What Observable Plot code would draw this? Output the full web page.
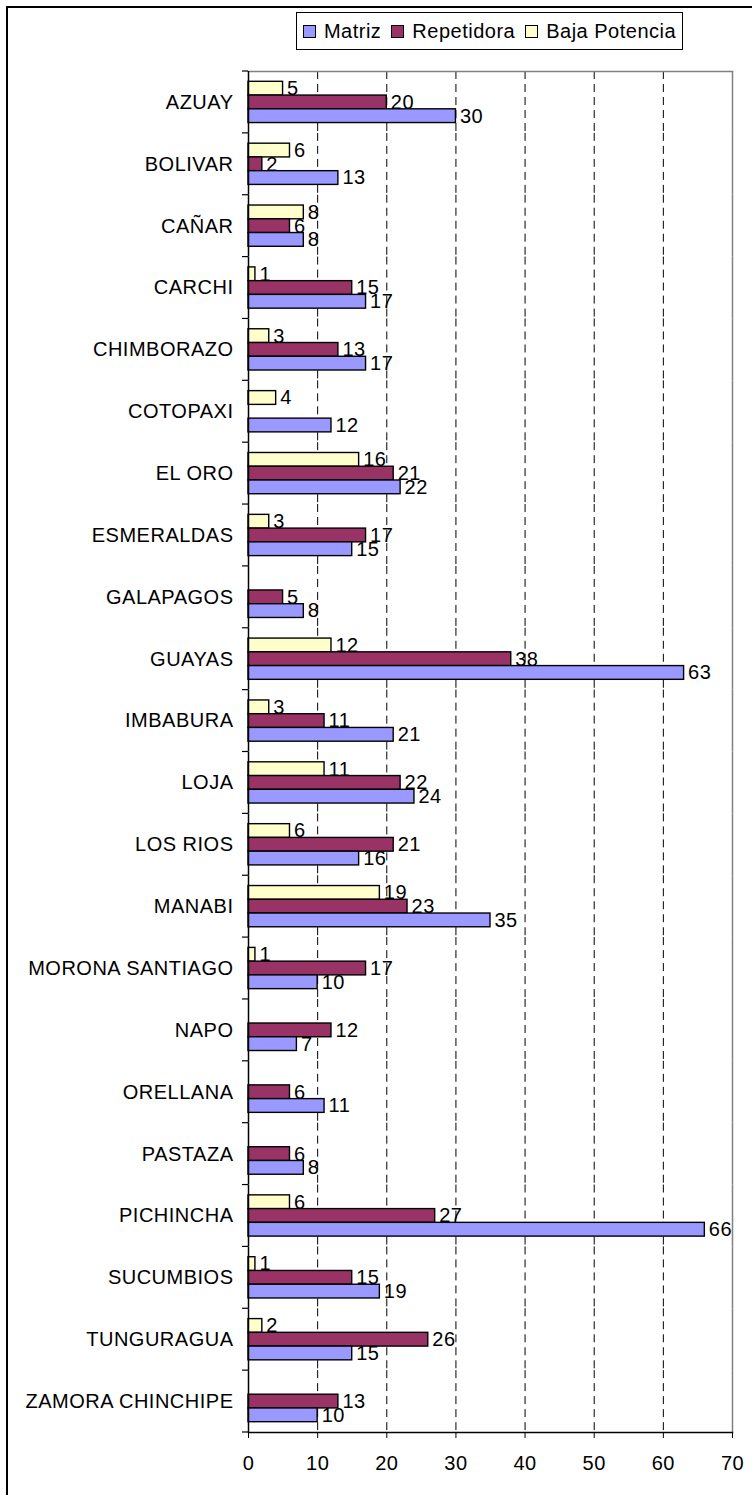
<!DOCTYPE html>
<html>
<head>
<meta charset="utf-8">
<script src="https://cdn.jsdelivr.net/npm/d3@7"></script>
<script src="https://cdn.jsdelivr.net/npm/@observablehq/plot@0.6"></script>
<style>
  html, body { margin: 0; padding: 0; background: white; overflow: hidden; }
  #wrap { position: relative; width: 752px; height: 1495px; font-family: "Liberation Sans", Arial, sans-serif; }
  #outer { position: absolute; left: 6px; top: 6px; width: 800px; height: 1600px; border: 2px solid black; box-sizing: border-box; }
  #chart { position: absolute; left: 0; top: 0; }
  #legend { position: absolute; left: 296px; top: 12px; width: 387px; height: 38px; border: 1.5px solid black; box-sizing: border-box;
            display: flex; align-items: center; justify-content: center; gap: 10px; font-size: 20px; letter-spacing: 0.5px; background: white; }
  .item { display: flex; align-items: center; gap: 8px; }
  .sw { width: 13px; height: 13px; border: 1.2px solid black; box-sizing: border-box; }
</style>
</head>
<body>
<div id="wrap">
  <div id="outer"></div>
  <div id="chart"></div>
  <div id="legend"></div>
</div>
<script>
const provinces = ["AZUAY","BOLIVAR","CAÑAR","CARCHI","CHIMBORAZO","COTOPAXI","EL ORO","ESMERALDAS","GALAPAGOS","GUAYAS","IMBABURA","LOJA","LOS RIOS","MANABI","MORONA SANTIAGO","NAPO","ORELLANA","PASTAZA","PICHINCHA","SUCUMBIOS","TUNGURAGUA","ZAMORA CHINCHIPE"];
const matriz     = [30,13,8,17,17,12,22,15,8,63,21,24,16,35,10,7,11,8,66,19,15,10];
const repetidora = [20,2,6,15,13,null,21,17,5,38,11,22,21,23,17,12,6,6,27,15,26,13];
const baja       = [5,6,8,1,3,4,16,3,null,12,3,11,6,19,1,null,null,null,6,1,2,null];
const series = ["Matriz","Repetidora","Baja Potencia"];
const colors = ["#9999FF","#993366","#FFFFCC"];
const xTicks = [0,10,20,30,40,50,60,70];
const gridTicks = [10,20,30,40,50,60];

const data = provinces.flatMap((p, i) => [
  {province: p, series: "Baja Potencia", value: baja[i]},
  {province: p, series: "Repetidora", value: repetidora[i]},
  {province: p, series: "Matriz", value: matriz[i]}
]).filter(d => d.value != null);

const chart = Plot.plot({
  width: 752, height: 1495,
  marginTop: 71, marginBottom: 63, marginLeft: 248, marginRight: 20,
  style: {fontFamily: "'Liberation Sans', Arial, sans-serif", fontSize: "20px", letterSpacing: "0.5px", background: "transparent", color: "black"},
  x: {domain: [0, 70]},
  y: {domain: ["Baja Potencia","Repetidora","Matriz"], paddingInner: 0, paddingOuter: 0.75, round: false, axis: null},
  fy: {domain: provinces, padding: 0, round: false, label: null},
  color: {domain: series, range: colors},
  marks: [
    Plot.gridX({ticks: gridTicks, stroke: "black", strokeOpacity: 1, strokeDasharray: "8,5"}),
    Plot.ruleX([70], {stroke: "#808080", strokeWidth: 1.5}),
    Plot.frame({anchor: "top", stroke: "#808080", strokeWidth: 1.5, facetAnchor: "top"}),
    Plot.barX(data, {x: "value", y: "series", fy: "province", fill: "series", stroke: "black", strokeWidth: 1.4}),
    Plot.text(data, {x: "value", y: "series", fy: "province", text: d => String(d.value), textAnchor: "start", dx: 4, fill: "black", fontSize: 20}),
    Plot.ruleX([0], {stroke: "black", strokeWidth: 1.5}),
    Plot.frame({anchor: "bottom", facetAnchor: "bottom", stroke: "black", strokeWidth: 1.5}),
    Plot.axisX({ticks: xTicks, tickSize: 6, tickPadding: 17, label: null, fontSize: 20}),
    Plot.axisFy({anchor: "left", tickSize: 0, tickPadding: 15, label: null, fontSize: 20})
  ]
});

// boundary ticks on the category axis, positioned from the fy and x scales
const fy = chart.scale("fy");
const xs = chart.scale("x");
const x0 = xs.apply(0);
const bounds = provinces.map(p => fy.apply(p)).concat([fy.apply(provinces[provinces.length - 1]) + fy.bandwidth]);
const g = d3.select(chart).append("g").attr("stroke", "black").attr("stroke-width", 1.2);
bounds.forEach(b => g.append("line").attr("x1", x0 - 6).attr("x2", x0).attr("y1", b).attr("y2", b));

document.getElementById("chart").appendChild(chart);

const legend = document.getElementById("legend");
series.forEach((s, i) => {
  const it = document.createElement("div");
  it.className = "item";
  const sw = document.createElement("div");
  sw.className = "sw";
  sw.style.background = colors[i];
  const t = document.createElement("span");
  t.textContent = s;
  it.appendChild(sw); it.appendChild(t);
  legend.appendChild(it);
});
</script>
</body>
</html>
